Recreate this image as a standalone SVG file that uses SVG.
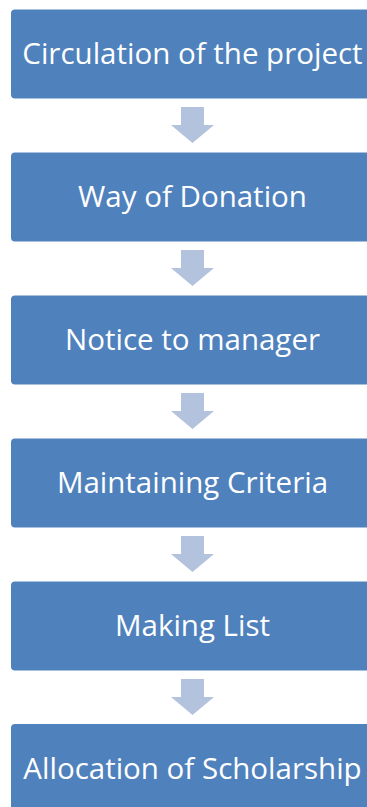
<svg xmlns="http://www.w3.org/2000/svg" width="367" height="807" viewBox="0 0 367 807">
<defs>
<style>
.box{fill:#4f81bd;}
.lbl{fill:#ffffff;font-family:"Open Sans","Liberation Sans",Arial,sans-serif;font-size:29.5px;text-anchor:middle;}
.arr{fill:#b3c2dd;}
</style>
<path id="down" class="arr" d="M-11.5,0 H11.5 V18 H21.5 L0,36 L-21.5,18 H-11.5 Z"/>
</defs>
<rect width="367" height="807" fill="#ffffff"/>
<g id="connectors">
<use href="#down" x="192.5" y="107"/>
<use href="#down" x="192.5" y="250"/>
<use href="#down" x="192.5" y="393"/>
<use href="#down" x="192.5" y="536"/>
<use href="#down" x="192.5" y="679"/>
</g>
<g id="n1"><rect class="box" x="11" y="9.5" width="363" height="89" rx="4"/><text class="lbl" x="192.5" y="64.3">Circulation of the project</text></g>
<g id="n2"><rect class="box" x="11" y="152.5" width="363" height="89" rx="4"/><text class="lbl" x="192.5" y="207.3">Way of Donation</text></g>
<g id="n3"><rect class="box" x="11" y="295.5" width="363" height="89" rx="4"/><text class="lbl" x="192.5" y="350.3">Notice to manager</text></g>
<g id="n4"><rect class="box" x="11" y="438.5" width="363" height="89" rx="4"/><text class="lbl" x="192.5" y="493.3">Maintaining Criteria</text></g>
<g id="n5"><rect class="box" x="11" y="581.5" width="363" height="89" rx="4"/><text class="lbl" x="192.5" y="636.3">Making List</text></g>
<g id="n6"><rect class="box" x="11" y="724" width="363" height="89" rx="4"/><text class="lbl" x="192.5" y="779">Allocation of Scholarship</text></g>
</svg>
